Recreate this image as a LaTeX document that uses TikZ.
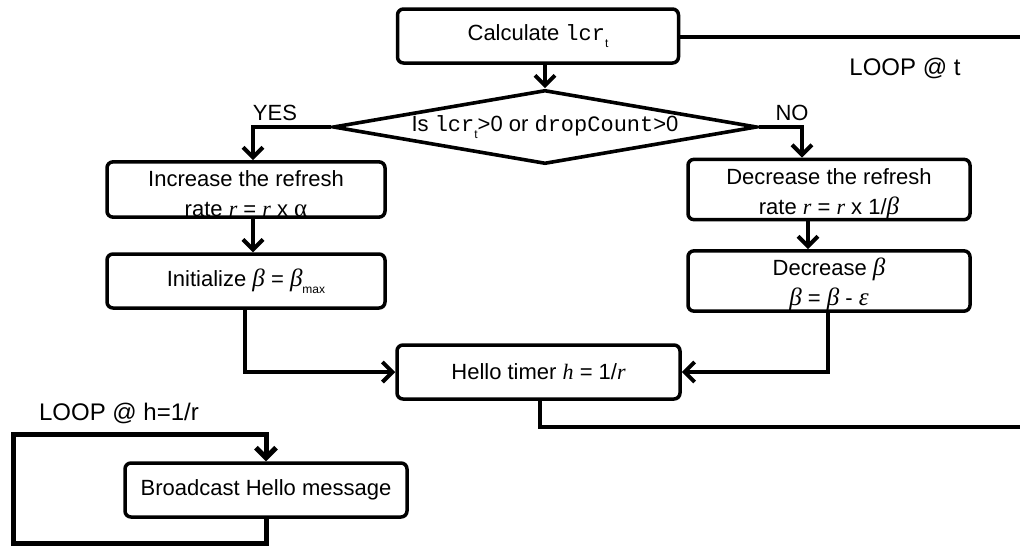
\documentclass[tikz,border=0pt]{standalone}
\usepackage{fontspec}
\setmainfont{Liberation Sans}
\setmonofont{Liberation Mono}
\newfontfamily\tms{Liberation Serif}
\usetikzlibrary{arrows.meta,shapes.geometric,calc}

% italic serif variables, small subscripts, code words
\newcommand{\vr}[1]{{\tms\itshape #1}}
\newcommand{\gk}[1]{{\tms\itshape\fontsize{25}{30}\selectfont #1}}
\newcommand{\sbs}[1]{\raisebox{-0.3em}{\fontsize{12}{12}\selectfont #1}}
\newcommand{\cd}[1]{\texttt{#1}}
% taller first line pushes two-line text toward the box bottom
\newcommand{\tallstrut}{\rule{0pt}{25pt}}

\begin{document}
\begin{tikzpicture}[x=1pt,y=-1pt,
  box/.style={draw, line width=3.5pt, rounded corners=6pt, minimum width=280pt,
    minimum height=54pt, align=center, inner sep=0pt,
    font=\fontsize{22}{30}\selectfont},
  decision/.style={draw, line width=3.6pt, diamond, aspect=5.73, inner sep=0pt,
    minimum width=424pt, minimum height=74pt, font=\fontsize{22}{26}\selectfont},
  flow/.style={line width=4pt, -{Straight Barb[length=10pt,width=20pt]}},
  link/.style={line width=4pt},
  lbl/.style={inner sep=0pt, font=\fontsize{22}{26}\selectfont},
  looplbl/.style={inner sep=0pt, font=\fontsize{24}{28}\selectfont}]
\useasboundingbox (0,0) rectangle (1020,549);

% free ends of the two outgoing lines
\coordinate (outT) at (1020,37);
\coordinate (outH) at (1020,427);
\coordinate (lb) at (13,543);
\coordinate (lt) at (13,434);

% boxes
\node[box, minimum width=281pt] (calc) at (538,36) {Calculate \cd{lcr}\sbs{t}};
\node[decision] (dec) at (545,127) {Is \cd{lcr}\sbs{t}>0 or \cd{dropCount}>0};
\node[box, minimum width=278pt, minimum height=55pt] (inc) at (246,189.5)
  {\tallstrut Increase the refresh\\rate \vr{r} = \vr{r} x {\tms\fontsize{25}{30}\selectfont α}};
\node[box, minimum width=278pt] (init) at (246,281)
  {Initialize \gk{β} = \gk{β}\sbs{max}};
\node[box, minimum width=282pt, minimum height=55pt] (decr) at (829,189.5)
  {\tallstrut Decrease the refresh\\rate \vr{r} = \vr{r} x 1/\gk{β}};
\node[box, minimum width=282pt] (decb) at (829,281)
  {\tallstrut Decrease \gk{β}\\\gk{β} = \gk{β} - \gk{ε}};
\node[box, minimum width=283pt] (hello) at (538.5,372)
  {Hello timer \vr{h} = 1/\vr{r}};
\node[box, minimum width=282pt] (bcast) at (266,490) {Broadcast Hello message};

% labels
\node[lbl] (yes) at (275,113) {YES};
\node[lbl] (no) at (792,113) {NO};
\node[looplbl] (loopt) at (905,68) {LOOP @ t};
\node[looplbl] (looph) at (119,413) {LOOP @ h=1/r};

% connectors
\draw[flow] (dec.north |- calc.south) -- (dec.north);
\draw[link] (calc.east |- outT) -- (outT);
\draw[flow] (dec.west) -| ($(inc.north)+(7,0)$);
\draw[flow] (dec.east) -| ($(decr.north)+(-27,0)$);
\draw[flow] ($(inc.south)+(7,0)$) -- ($(init.north)+(7,0)$);
\draw[flow] ($(decr.south)+(-21,0)$) -- ($(decb.north)+(-21,0)$);
\draw[flow] ($(init.south)+(-1,0)$) |- (hello.west);
\draw[flow] ($(decb.south)+(-1,0)$) |- (hello.east);
\draw[link] ($(hello.south)+(1.5,0)$) |- (outH);
\draw[flow, line width=5pt] (bcast.south) |- (lb) -- (lt) -| (bcast.north);
\end{tikzpicture}
\end{document}
